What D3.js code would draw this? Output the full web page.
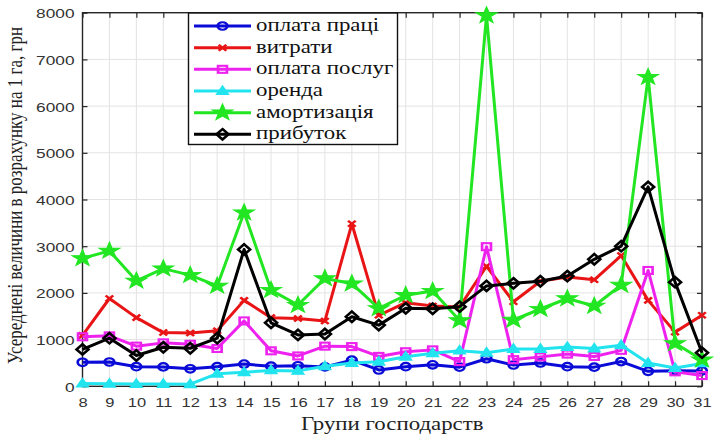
<!DOCTYPE html>
<html><head><meta charset="utf-8">
<script src="https://cdn.jsdelivr.net/npm/d3@7"></script>
<style>html,body{margin:0;padding:0;background:#fff;}svg{display:block;}</style>
</head><body>
<svg id="c" width="714" height="435"></svg>
<script>
const groups = [8,9,10,11,12,13,14,15,16,17,18,19,20,21,22,23,24,25,26,27,28,29,30,31];
const seriesNames = ["оплата праці","витрати","оплата послуг","оренда","амортизація","прибуток"];
const labour =   [514,520,420,415,375,420,475,430,440,415,560,350,420,460,410,590,456,500,420,410,530,320,335,330];
const costs =    [1090,1880,1470,1150,1140,1190,1840,1470,1450,1400,3480,1520,1790,1720,1700,2570,1810,2250,2340,2280,2800,1840,1160,1520];
const services = [1060,1080,860,930,900,810,1400,760,650,860,850,640,740,780,530,2990,570,630,690,640,770,2480,310,230];
const rent =     [60,55,50,50,45,270,300,340,330,430,500,527,634,706,763,720,800,800,840,810,880,500,390,490];
const amort =    [2740,2900,2260,2520,2380,2150,3720,2060,1740,2310,2200,1670,1950,2040,1410,7940,1420,1655,1880,1720,2170,6620,920,570];
const profit =   [790,1030,660,835,815,1030,2930,1360,1100,1120,1490,1310,1670,1660,1705,2150,2205,2250,2360,2720,3000,4270,2230,720];
const yTicks = [0,1000,2000,3000,4000,5000,6000,7000,8000];
const xTitle = "Групи господарств";
const yTitle = "Усереднені величини в розрахунку на 1 га, грн";

const series = [
  {name: seriesNames[0], values: labour,   color: "#0b0bd8", marker: "circle"},
  {name: seriesNames[1], values: costs,    color: "#e81416", marker: "x"},
  {name: seriesNames[2], values: services, color: "#ee22ee", marker: "square"},
  {name: seriesNames[3], values: rent,     color: "#22e4ee", marker: "triangle"},
  {name: seriesNames[4], values: amort,    color: "#22e622", marker: "star"},
  {name: seriesNames[5], values: profit,   color: "#000000", marker: "diamond"}
];

const SX = 1.27; // horizontal stretch of the original image
const L = 82.5, R = 702, T = 12.7, B = 386.3;
const svg = d3.select("#c");
const x = d3.scaleLinear().domain([8,31]).range([L,R]);
const y = d3.scaleLinear().domain([0,8000]).range([B,T]);
const axisColor = "#262626";

// grid
const grid = svg.append("g");
grid.selectAll(".gx").data(groups).join("line")
  .attr("x1", d=>x(d)).attr("x2", d=>x(d)).attr("y1", T).attr("y2", B)
  .attr("stroke", "#e3e3e3").attr("stroke-width", 1);
grid.selectAll(".gy").data(yTicks).join("line")
  .attr("y1", d=>y(d)).attr("y2", d=>y(d)).attr("x1", L).attr("x2", R)
  .attr("stroke", "#e3e3e3").attr("stroke-width", 1);

// axes
function styleAxis(g, fs){
  g.select(".domain").remove();
  g.selectAll(".tick line").attr("stroke", axisColor).attr("stroke-width", 1.2);
  g.selectAll("text").attr("fill", "#333").attr("font-family", "'Liberation Sans', Arial, sans-serif").attr("font-size", fs || 13);
}
const gb = svg.append("g").attr("transform", `translate(0,${B})`)
  .call(d3.axisBottom(x).tickValues(groups).tickFormat(d3.format("d")).tickSize(-5).tickPadding(0));
styleAxis(gb, 13);
gb.selectAll("text").attr("y", 0).attr("dy", 0).attr("transform", `translate(0,21) scale(${SX},1)`);
const gt = svg.append("g").attr("transform", `translate(0,${T})`)
  .call(d3.axisTop(x).tickValues(groups).tickFormat("").tickSize(-5));
styleAxis(gt);
const gl = svg.append("g").attr("transform", `translate(${L},0)`)
  .call(d3.axisLeft(y).tickValues(yTicks).tickFormat(d3.format("d")).tickSize(-5).tickPadding(0));
styleAxis(gl, 13.6);
gl.selectAll("text").attr("x", 0).attr("dy", "0.36em").attr("transform", `translate(-8,0) scale(${SX},1)`);
const gr = svg.append("g").attr("transform", `translate(${R},0)`)
  .call(d3.axisRight(y).tickValues(yTicks).tickFormat("").tickSize(-5));
styleAxis(gr);

svg.append("rect").attr("x", L).attr("y", T).attr("width", R-L).attr("height", B-T)
  .attr("fill", "none").attr("stroke", axisColor).attr("stroke-width", 1.4);

// markers
function starPath(Ro){
  const Ri = Ro*0.40; let p = "";
  for (let i=0;i<10;i++){
    const r = i%2===0 ? Ro : Ri;
    const a = -Math.PI/2 + i*Math.PI/5;
    p += (i===0?"M":"L") + (r*Math.cos(a)).toFixed(2) + "," + (r*Math.sin(a)).toFixed(2);
  }
  return p + "Z";
}
function drawMarker(g, type, color, cx, cy){
  const m = g.append("g").attr("transform", `translate(${cx},${cy}) scale(${SX},1)`);
  if (type==="circle") m.append("circle").attr("r", 3.8).attr("fill","none").attr("stroke",color).attr("stroke-width",2.1);
  else if (type==="x") m.append("path").attr("d","M-3,-3L3,3M-3,3L3,-3").attr("stroke",color).attr("stroke-width",2.2);
  else if (type==="square") m.append("rect").attr("x",-3.5).attr("y",-3.5).attr("width",7).attr("height",7).attr("fill","none").attr("stroke",color).attr("stroke-width",2.1);
  else if (type==="triangle") m.append("path").attr("d","M0,-5L4.6,3.3L-4.6,3.3Z").attr("fill",color).attr("stroke",color).attr("stroke-width",1.3);
  else if (type==="star") m.append("path").attr("d",starPath(8.6)).attr("fill",color).attr("stroke",color).attr("stroke-width",1);
  else if (type==="diamond") m.append("path").attr("d","M0,-5.2L4.7,0L0,5.2L-4.7,0Z").attr("fill","none").attr("stroke",color).attr("stroke-width",2.3);
}

const line = d3.line().x((d,i)=>x(groups[i])).y(d=>y(d));
series.forEach(s=>{
  const g = svg.append("g");
  g.append("path").datum(s.values).attr("d", line).attr("fill","none")
    .attr("stroke", s.color).attr("stroke-width", 3).attr("stroke-linejoin","round");
  s.values.forEach((v,i)=>drawMarker(g, s.marker, s.color, x(groups[i]), y(v)));
});

// legend
const lg = svg.append("g");
lg.append("rect").attr("x", 188.5).attr("y", 13).attr("width", 209).attr("height", 131.5)
  .attr("fill", "#fff").attr("stroke", "#111").attr("stroke-width", 1.4);
series.forEach((s,i)=>{
  const cy = 26 + i*21.66;
  lg.append("line").attr("x1",194).attr("x2",251).attr("y1",cy).attr("y2",cy)
    .attr("stroke", s.color).attr("stroke-width", 3);
  drawMarker(lg, s.marker, s.color, 222.5, cy);
  lg.append("text").attr("transform", `translate(256,${cy+5}) scale(${SX},1)`)
    .attr("font-family","'Liberation Serif','Times New Roman',serif").attr("font-size",18)
    .attr("fill","#111").text(s.name);
});

// titles
svg.append("text").attr("transform", `translate(${(L+R)/2},430) scale(${SX},1)`)
  .attr("text-anchor","middle").attr("font-family","'Liberation Serif','Times New Roman',serif")
  .attr("font-size",18).attr("fill","#222").text(xTitle);
svg.append("text").attr("transform", `translate(22,${(T+B)/2 - 4}) scale(${SX},1) rotate(-90)`)
  .attr("text-anchor","middle").attr("font-family","'Liberation Serif','Times New Roman',serif")
  .attr("font-size",17).attr("fill","#222").text(yTitle);
</script>
</body></html>
